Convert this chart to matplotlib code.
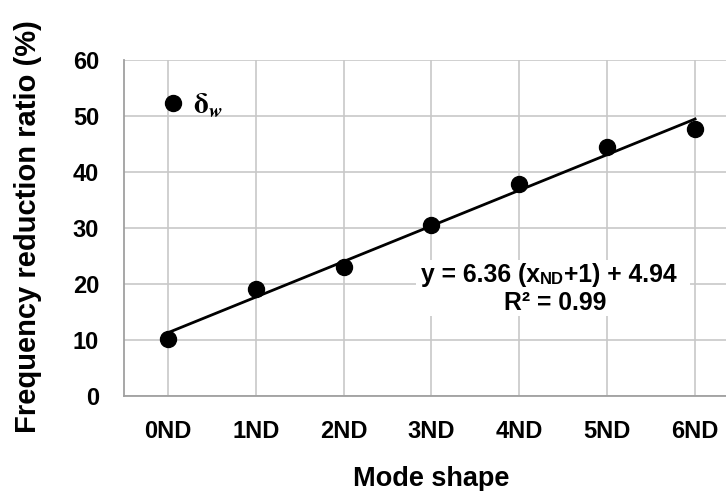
import matplotlib
matplotlib.use('Agg')
import matplotlib.pyplot as plt
from matplotlib.patches import Rectangle
import numpy as np

plt.rcParams['font.family'] = ['Liberation Sans', 'DejaVu Sans']
plt.rcParams['font.weight'] = 'bold'
plt.rcParams['mathtext.fontset'] = 'stix'

modes = ['0ND', '1ND', '2ND', '3ND', '4ND', '5ND', '6ND']
ratio = [10.2, 19.1, 23.0, 30.6, 37.9, 44.5, 47.6]
slope = 6.36
intercept = 4.94
r2 = 0.99

x = np.arange(len(modes))
fit = slope * (x + 1) + intercept

fig = plt.figure(figsize=(7.26, 4.91), dpi=100)
ax = fig.add_axes([124 / 726, 1 - 396 / 491, 615 / 726, 336 / 491])

ax.plot(x, fit, color='black', lw=2, zorder=3)
ax.plot(x, ratio, 'o', color='black', ms=11.5, zorder=4,
        label=r'$\mathbf{\delta}_{\mathbfit{w}}$')

ax.set_xlim(-0.5, 6.5)
ax.set_ylim(0, 60)
ax.set_yticks(range(0, 61, 10))
ax.set_xticks(x)
ax.set_xticklabels(modes)
ax.grid(True, color='#c8c8c8', lw=1.2, zorder=0)
ax.set_axisbelow(True)
for s in ['top', 'right']:
    ax.spines[s].set_visible(False)
for s in ['left', 'bottom']:
    ax.spines[s].set_color('#a0a0a0')
    ax.spines[s].set_linewidth(1.3)
ax.tick_params(length=0, labelsize=17)
ax.tick_params(axis='x', pad=17)
ax.tick_params(axis='y', pad=18)
for lab in ax.get_xticklabels() + ax.get_yticklabels():
    lab.set_fontweight('bold')

ax.set_xlabel('Mode shape', fontsize=19.5, fontweight='bold', labelpad=17)
ax.set_ylabel('Frequency reduction ratio (%)', fontsize=21, fontweight='bold')
ax.yaxis.set_label_coords(-0.133, 0.503)

# legend
ax.legend(loc='center left', bbox_to_anchor=(0.056, 0.864), frameon=False,
          handletextpad=0.2, borderaxespad=0, borderpad=0, handlelength=1.0,
          fontsize=21)

# equation
ax.add_patch(Rectangle(((416 - 124) / 615, (396 - 316) / 336), 274 / 615, 56 / 336,
                       transform=ax.transAxes, facecolor='white', edgecolor='none', zorder=2))
t1 = ax.text((421 - 124) / 615, (396 - 282) / 336, 'y = 6.36 (x', fontsize=17.8,
             fontweight='bold', transform=ax.transAxes, va='baseline', zorder=5)
t2 = ax.annotate('ND', xy=(1, 0), xycoords=t1, fontsize=12, fontweight='bold',
                 va='bottom', ha='left', zorder=5)
t3 = ax.annotate(f'+1) + {intercept:.2f}', xy=(1, 0), xycoords=t2, fontsize=17.8,
                 fontweight='bold', va='bottom', ha='left', zorder=5)
ax.text((555 - 124) / 615, (396 - 310) / 336, f'R\u00b2 = {r2:.2f}', transform=ax.transAxes,
        fontsize=17.8, fontweight='bold', ha='center', va='baseline', zorder=5)

fig.savefig('out.png', dpi=100)
